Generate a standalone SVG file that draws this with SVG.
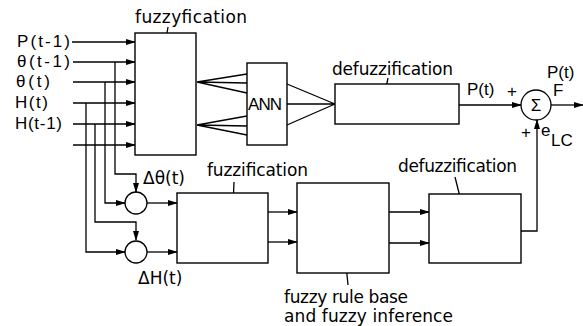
<svg xmlns="http://www.w3.org/2000/svg" width="583" height="326" viewBox="0 0 583 326">
<style>
.ln{fill:none;stroke:#000;stroke-width:1.3}
.bx{fill:#fff;stroke:#000;stroke-width:1.4}
.ar{marker-end:url(#ah)}
text{font-family:"DejaVu Sans","Liberation Sans",sans-serif;font-size:17px;fill:#000}
.hv{font-family:"Liberation Sans",Arial,sans-serif}
</style>
<defs>
<marker id="ah" markerUnits="userSpaceOnUse" markerWidth="10" markerHeight="6" refX="9" refY="3" orient="auto">
<path d="M0,0 L10,3 L0,6 z" fill="#000"/>
</marker>
</defs>
<rect width="583" height="326" fill="#fff"/>

<g id="connectors">
<line class="ln ar" x1="72" y1="42" x2="135" y2="42"/>
<line class="ln ar" x1="73" y1="62" x2="135" y2="62"/>
<line class="ln ar" x1="73" y1="82" x2="135" y2="82"/>
<line class="ln ar" x1="73" y1="103" x2="135" y2="103"/>
<line class="ln ar" x1="73" y1="124" x2="135" y2="124"/>
<line class="ln ar" x1="73" y1="145" x2="135" y2="145"/>
<polyline class="ln ar" points="115,62 115,174 136,174 136,192"/>
<polyline class="ln ar" points="105,82 105,203 125,203"/>
<polyline class="ln ar" points="95,124 95,222 136,222 136,240"/>
<polyline class="ln ar" points="86,103 86,252 125,252"/>
<line class="ln ar" x1="147" y1="203" x2="177" y2="203"/>
<line class="ln ar" x1="147" y1="252" x2="177" y2="252"/>
<line class="ln ar" x1="268" y1="212" x2="297" y2="212"/>
<line class="ln ar" x1="268" y1="242" x2="297" y2="242"/>
<line class="ln ar" x1="389" y1="212" x2="429" y2="212"/>
<line class="ln ar" x1="389" y1="243" x2="429" y2="243"/>
<path class="ln" d="M197,82 L247,74 M197,82 L247,83 M197,82 L247,93 M197,125 L247,116 M197,125 L247,126 M197,125 L247,135"/>
<path class="ln" d="M287,84 L335,104 M287,104 L335,104 M287,125 L335,104"/>
<line class="ln ar" x1="459" y1="105" x2="521" y2="105"/>
<line class="ln ar" x1="551" y1="105" x2="583" y2="105"/>
<polyline class="ln ar" points="521,231 537,231 537,120"/>
<path class="ln" d="M168,27 L163,57 M234,182 L233,207 M346,265 L348,285 M455,177 L464,213 M388,78 L385,93"/>
</g>

<g id="fuzzyfication">
<rect class="bx" x="135" y="33" width="61" height="122"/>
<text x="135" y="23" textLength="112">fuzzyfication</text>
</g>
<g id="ann">
<rect class="bx" x="247" y="63" width="40" height="82"/>
<text class="hv" x="248" y="110" textLength="34" font-size="18">ANN</text>
</g>
<g id="defuzz1">
<rect class="bx" x="335" y="84" width="124" height="40"/>
<text x="332" y="75" textLength="121">defuzzification</text>
</g>
<g id="sum">
<circle class="ln" cx="536" cy="105" r="15"/>
<text class="hv" x="536" y="111" text-anchor="middle" font-size="17">Σ</text>
<text class="hv" x="467" y="95" font-size="18">P(t)</text>
<text class="hv" x="507" y="97" font-size="13">+</text>
<text class="hv" x="521" y="138" font-size="13">+</text>
<text class="hv" x="547" y="78" font-size="18">P(t)</text>
<text class="hv" x="553" y="96" font-size="15">F</text>
<text class="hv" x="541" y="136" font-size="18">e</text>
<text class="hv" x="551" y="146" font-size="16">LC</text>
</g>
<g id="diffTheta">
<circle class="ln" cx="136" cy="203" r="11"/>
<text x="143" y="184">Δθ(t)</text>
</g>
<g id="diffH">
<circle class="ln" cx="136" cy="252" r="11"/>
<text x="138" y="284">ΔH(t)</text>
</g>
<g id="fuzzification">
<rect class="bx" x="177" y="193" width="91" height="70"/>
<text x="207" y="176" textLength="101">fuzzification</text>
</g>
<g id="rulebase">
<rect class="bx" x="297" y="183" width="92" height="90"/>
<text x="284" y="303" font-size="16" textLength="124">fuzzy rule base</text>
<text x="284" y="322" font-size="16" textLength="169">and fuzzy inference</text>
</g>
<g id="defuzz2">
<rect class="bx" x="429" y="194" width="92" height="69"/>
<text x="398" y="172" textLength="119">defuzzification</text>
</g>
<g id="inputs">
<text class="hv" x="17" y="47" font-size="18" textLength="53">P(t-1)</text>
<text class="hv" x="17" y="67" font-size="18" textLength="53">θ(t-1)</text>
<text class="hv" x="16" y="87" font-size="18" textLength="34">θ(t)</text>
<text class="hv" x="15" y="108" font-size="18" textLength="33">H(t)</text>
<text class="hv" x="15" y="129" font-size="18" textLength="47">H(t-1)</text>
</g>
</svg>
